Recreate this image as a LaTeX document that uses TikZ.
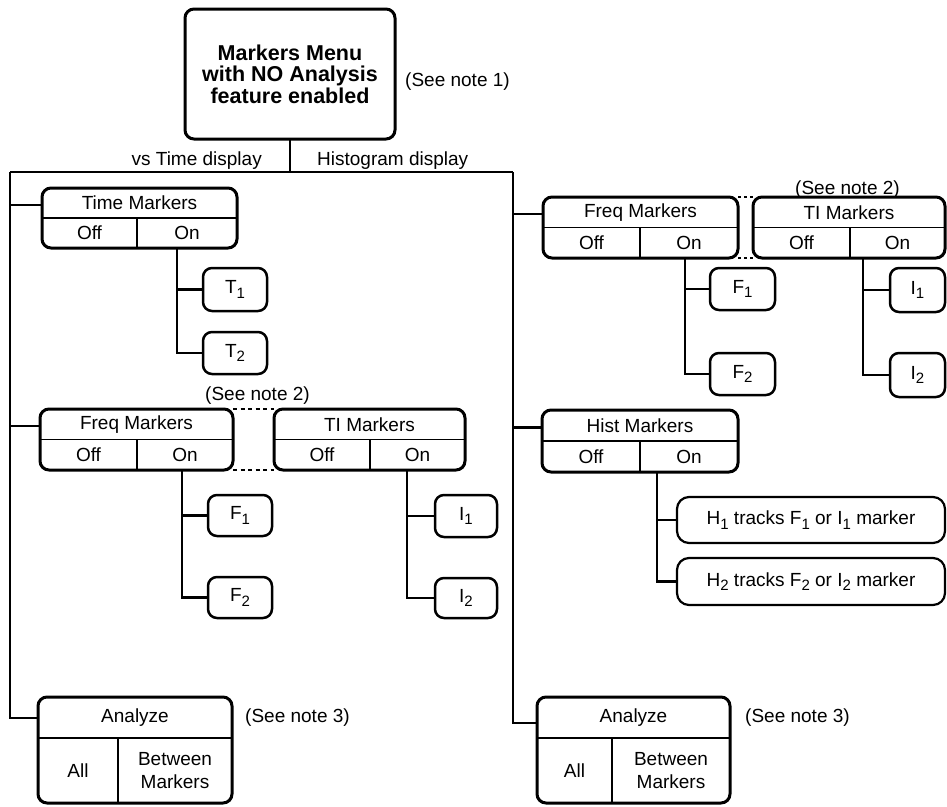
\documentclass[tikz,border=0pt]{standalone}
\usepackage{fontspec}
\setmainfont{Liberation Sans}
\newcommand\lowidx[1]{\raisebox{-0.45ex}{\fontsize{15}{15}\selectfont #1}}
\tikzset{
  bigbox/.style={draw, line width=3pt, rounded corners=9pt, inner sep=0pt, outer sep=0pt, anchor=north west},
  smallbox/.style={draw, line width=2.5pt, rounded corners=9pt, inner sep=0pt, outer sep=0pt, anchor=north west, font=\fontsize{19}{21}\selectfont},
  widebox/.style={draw, line width=2.2pt, rounded corners=12pt, inner sep=0pt, outer sep=0pt, anchor=north west, font=\fontsize{19}{21}\selectfont},
  divline/.style={line width=1.6pt},
  conn/.style={line width=2.2pt},
  lbl/.style={font=\fontsize{19}{21}\selectfont, inner sep=0pt},
  dashlink/.style={line width=2pt, dash pattern=on 4pt off 3.5pt},
}
% name, x1, y1, x2, y2, divx, onx, title
\newcommand\menubx[8]{%
  \node[bigbox, minimum width={(#4-#2)*1pt}, minimum height={(#5-#3)*1pt}] (#1) at (#2,#3) {};
  \draw[divline] (#2,{(#3+#5)/2}) -- (#4,{(#3+#5)/2});
  \draw[divline] (#6,{(#3+#5)/2}) -- (#6,#5);
  \node[lbl] (#1-t) at ({(#2+#4)/2},{(3*#3+#5)/4}) {#8};
  \node[lbl] (#1-off) at ({(#2+#6)/2},{(#3+3*#5)/4}) {Off};
  \node[lbl] (#1-ont) at ({(#6+#4)/2},{(#3+3*#5)/4}) {On};
  \coordinate (#1-h) at (#2,{(3*#3+#5)/4+2});
  \coordinate (#1-on) at (#7,#5);
}
% name, x1, y1, x2, y2, divy, divx
\newcommand\anabx[7]{%
  \node[bigbox, minimum width={(#4-#2)*1pt}, minimum height={(#5-#3)*1pt}] (#1) at (#2,#3) {};
  \draw[divline] (#2,#6) -- (#4,#6);
  \draw[divline] (#7,#6) -- (#7,#5);
  \node[lbl] (#1-t) at ({(#2+#4)/2},{(#3+#6)/2}) {Analyze};
  \node[lbl] (#1-all) at ({(#2+#7)/2},{(#6+#5)/2}) {All};
  \node[lbl, align=center, font=\fontsize{19}{23}\selectfont] (#1-bm) at ({(#7+#4)/2},{(#6+#5)/2}) {Between\\Markers};
}
\begin{document}
\begin{tikzpicture}[x=1pt, y=-1pt]
\useasboundingbox (0,0) rectangle (947,806);

% top
\node[bigbox, minimum width=210pt, minimum height=130pt] (top) at (185,9) {};
\node[align=center, inner sep=0pt, font=\fontsize{21.5}{21.5}\selectfont\bfseries] (title) at (top.center) {Markers Menu\\with NO Analysis\\feature enabled};
\node[lbl, anchor=west] (n1) at (405,82) {(See note 1)};

\coordinate (tl) at (10,172);
\coordinate (tr) at (513,172);
\draw[conn] (top.south) -- (top.south |- tl);
\draw[conn] (tl) -- (tr);
\node[lbl, anchor=east] (vst) at (262,161) {vs Time display};
\node[lbl, anchor=west] (hst) at (317,161) {Histogram display};

% left column
\menubx{tmL}{42}{188}{237}{248}{137}{177}{Time Markers}
\node[smallbox, minimum width=64pt, minimum height=43pt] (T1) at (203,268) {T\lowidx{1}};
\node[smallbox, minimum width=64pt, minimum height=42pt] (T2) at (203,332) {T\lowidx{2}};

\node[lbl, anchor=west] (n2L) at (205,396) {(See note 2)};
\menubx{fqL}{40}{409}{233}{470}{137}{182}{Freq Markers}
\menubx{tiL}{274}{409}{465}{470}{370}{407}{TI Markers}
\draw[dashlink] (fqL.north east) -- (tiL.north west);
\draw[dashlink] (fqL.south east) -- (tiL.south west);
\node[smallbox, minimum width=64pt, minimum height=41pt] (F1L) at (208,495) {F\lowidx{1}};
\node[smallbox, minimum width=64pt, minimum height=41pt] (F2L) at (208,577) {F\lowidx{2}};
\node[smallbox, minimum width=62pt, minimum height=42pt] (I1L) at (435,495) {I\lowidx{1}};
\node[smallbox, minimum width=62pt, minimum height=40pt] (I2L) at (435,578) {I\lowidx{2}};

\anabx{anaL}{38}{697}{232}{803}{738}{118}
\coordinate (anaL-h) at (38,718);
\node[lbl, anchor=west] (n3L) at (245,718) {(See note 3)};

% right column
\node[lbl, anchor=west] (n2R) at (795,190) {(See note 2)};
\menubx{fqR}{543}{197}{738}{258}{640}{685}{Freq Markers}
\menubx{tiR}{753}{197}{945}{258}{850}{863}{TI Markers}
\draw[dashlink, dash pattern=on 3pt off 3pt] (fqR.north east) -- (tiR.north west);
\draw[dashlink, dash pattern=on 3pt off 3pt] (fqR.south east) -- (tiR.south west);
\node[smallbox, minimum width=65pt, minimum height=42pt] (F1R) at (710,268) {F\lowidx{1}};
\node[smallbox, minimum width=65pt, minimum height=42pt] (F2R) at (710,353) {F\lowidx{2}};
\node[smallbox, minimum width=55pt, minimum height=44pt] (I1R) at (890,268) {I\lowidx{1}};
\node[smallbox, minimum width=55pt, minimum height=44pt] (I2R) at (890,353) {I\lowidx{2}};

\menubx{hsR}{542}{410}{738}{472}{640}{657}{Hist Markers}
\node[widebox, minimum width=268pt, minimum height=46pt] (H1) at (677,497) {H\lowidx{1} tracks F\lowidx{1} or I\lowidx{1} marker};
\node[widebox, minimum width=268pt, minimum height=47pt] (H2) at (677,558) {H\lowidx{2} tracks F\lowidx{2} or I\lowidx{2} marker};

\anabx{anaR}{537}{697}{730}{803}{738}{612}
\coordinate (anaR-h) at (537,723);
\node[lbl, anchor=west] (n3R) at (745,718) {(See note 3)};

% trunk connectors
\draw[conn] (tl) |- (anaL-h);
\draw[conn] (tr) |- (anaR-h);
\draw[conn] (tl |- tmL-h) -- (tmL-h);
\draw[conn] (tl |- fqL-h) -- (fqL-h);
\draw[conn] (tr |- fqR-h) -- (fqR-h);
\draw[conn] (tr |- hsR-h) -- (hsR-h);

% On branches
\draw[conn] (tmL-on) |- (T1.west);
\draw[conn] (tmL-on) |- (T2.west);
\draw[conn] (fqL-on) |- (F1L.west);
\draw[conn] (fqL-on) |- (F2L.west);
\draw[conn] (tiL-on) |- (I1L.west);
\draw[conn] (tiL-on) |- (I2L.west);
\draw[conn] (fqR-on) |- (F1R.west);
\draw[conn] (fqR-on) |- (F2R.west);
\draw[conn] (tiR-on) |- (I1R.west);
\draw[conn] (tiR-on) |- (I2R.west);
\draw[conn] (hsR-on) |- (H1.west);
\draw[conn] (hsR-on) |- (H2.west);
\end{tikzpicture}
\end{document}
